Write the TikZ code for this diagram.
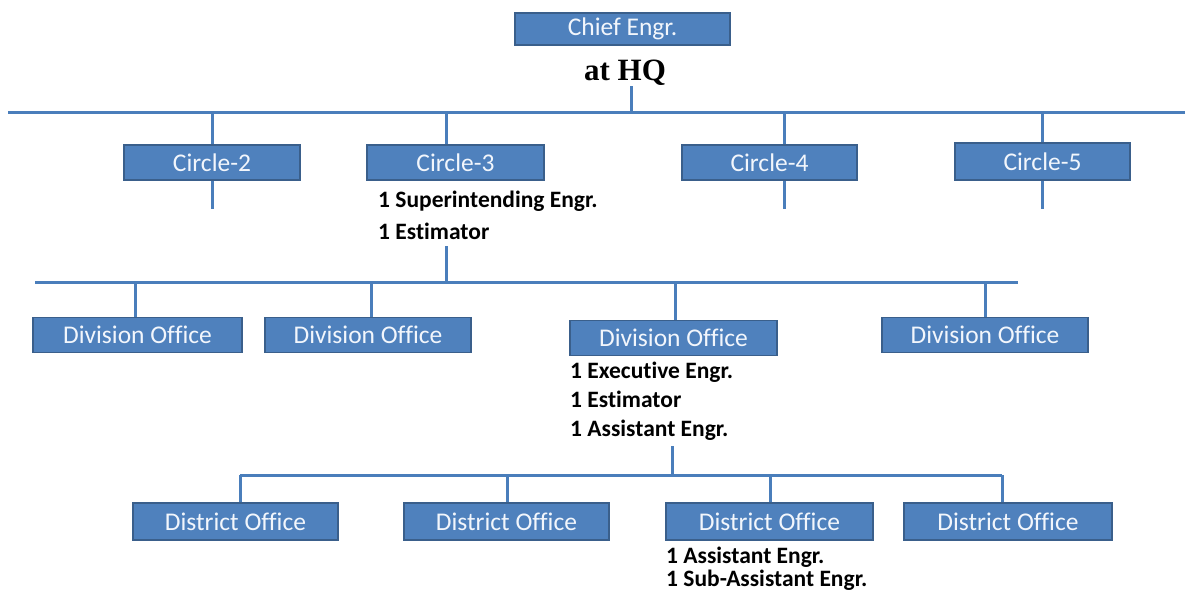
\documentclass[tikz,border=0pt]{standalone}
\usepackage{fontspec}
\setmainfont{Carlito}[Ligatures=NoCommon]
\newfontfamily\hqfont{Liberation Serif}
\begin{document}
\begin{tikzpicture}[x=1pt,y=-1pt,
  box/.style={draw=boxedge, fill=boxfill, line width=1.6pt, text=boxtext,
    minimum height=35pt, inner sep=0pt, font=\fontsize{25.5}{27}\selectfont},
  link/.style={draw=linkblue, line width=3pt},
  staff/.style={anchor=base west, inner sep=0pt,
    font=\fontsize{23.5}{26}\selectfont\bfseries}]
\definecolor{boxfill}{HTML}{4F81BD}
\definecolor{boxedge}{HTML}{3A5F8B}
\definecolor{boxtext}{HTML}{F2F6FC}
\definecolor{linkblue}{HTML}{4A7EBB}
\useasboundingbox (0,0) rectangle (1185,593);

% Head office
\node[box, minimum width=215pt, minimum height=32pt] (chief) at (622.5,29) {Chief Engr.};
\node[inner sep=0pt, anchor=base, font=\hqfont\fontsize{31}{33}\selectfont\bfseries] (hq) at (625,81) {at HQ};

% Circle level
\coordinate (busAL) at (8,113);
\coordinate (busAR) at (1185,113);
\coordinate (j0) at (631,113);
\draw[link] (busAL) -- (busAR);
\draw[link] (j0 |- hq.south) -- (j0);

\node[box, minimum width=176pt] (c2) at (212,162.5) {Circle-2};
\node[box, minimum width=177pt] (c3) at (455.5,162.5) {Circle-3};
\node[box, minimum width=175pt] (c4) at (769.5,162.5) {Circle-4};
\node[box, minimum width=175pt, minimum height=37pt] (c5) at (1042.5,161.5) {Circle-5};

\coordinate (j2) at (212,113);
\coordinate (j3) at (446,113);
\coordinate (j4) at (784,113);
\coordinate (j5) at (1042,113);
\draw[link] (j2) -- (j2 |- c2.north);
\draw[link] (j3) -- (j3 |- c3.north);
\draw[link] (j4) -- (j4 |- c4.north);
\draw[link] (j5) -- (j5 |- c5.north);
\draw[link] (j2 |- c2.south) -- ++(0,28);
\draw[link] (j4 |- c4.south) -- ++(0,28);
\draw[link] (j5 |- c5.south) -- ++(0,28);

\node[staff] (c3a) at (378,208) {1 Superintending Engr.};
\node[staff] (c3b) at (378,240) {1 Estimator};

% Division level
\coordinate (busBL) at (35,283);
\coordinate (busBR) at (1018,283);
\draw[link] (busBL) -- (busBR);
\draw[link] (j3 |- c3b.south) ++(0,6) -- (j3 |- busBL);

\node[box, minimum width=209pt] (d1) at (137.5,335) {Division Office};
\node[box, minimum width=206pt] (d2) at (368,335) {Division Office};
\node[box, minimum width=207pt] (d3) at (673.5,338) {Division Office};
\node[box, minimum width=206pt] (d4) at (985,335) {Division Office};

\coordinate (k1) at (135,283);
\coordinate (k2) at (371,283);
\coordinate (k3) at (675,283);
\coordinate (k4) at (985,283);
\draw[link] (k1) -- (k1 |- d1.north);
\draw[link] (k2) -- (k2 |- d2.north);
\draw[link] (k3) -- (k3 |- d3.north);
\draw[link] (k4) -- (k4 |- d4.north);

\node[staff] (d3a) at (570,378) {1 Executive Engr.};
\node[staff] (d3b) at (570,407) {1 Estimator};
\node[staff] (d3c) at (570,436) {1 Assistant Engr.};

% District level
\coordinate (busCL) at (240,475);
\coordinate (busCR) at (1002,475);
\coordinate (m0) at (672,475);
\draw[link] (busCL) -- (busCR);
\draw[link] (m0 |- d3c.south) ++(0,6) -- (m0);

\node[box, minimum width=205pt, minimum height=37pt] (t1) at (235.5,521.5) {District Office};
\node[box, minimum width=205pt, minimum height=37pt] (t2) at (506.5,521.5) {District Office};
\node[box, minimum width=207pt, minimum height=37pt] (t3) at (769.5,521.5) {District Office};
\node[box, minimum width=208pt, minimum height=37pt] (t4) at (1008,521.5) {District Office};

\coordinate (n1) at (240,475);
\coordinate (n2) at (507,475);
\coordinate (n3) at (770,475);
\coordinate (n4) at (1002,475);
\draw[link] (n1) -- (n1 |- t1.north);
\draw[link] (n2) -- (n2 |- t2.north);
\draw[link] (n3) -- (n3 |- t3.north);
\draw[link] (n4) -- (n4 |- t4.north);

\node[staff] (t3a) at (666,563) {1 Assistant Engr.};
\node[staff] (t3b) at (666,586) {1 Sub-Assistant Engr.};
\end{tikzpicture}
\end{document}
